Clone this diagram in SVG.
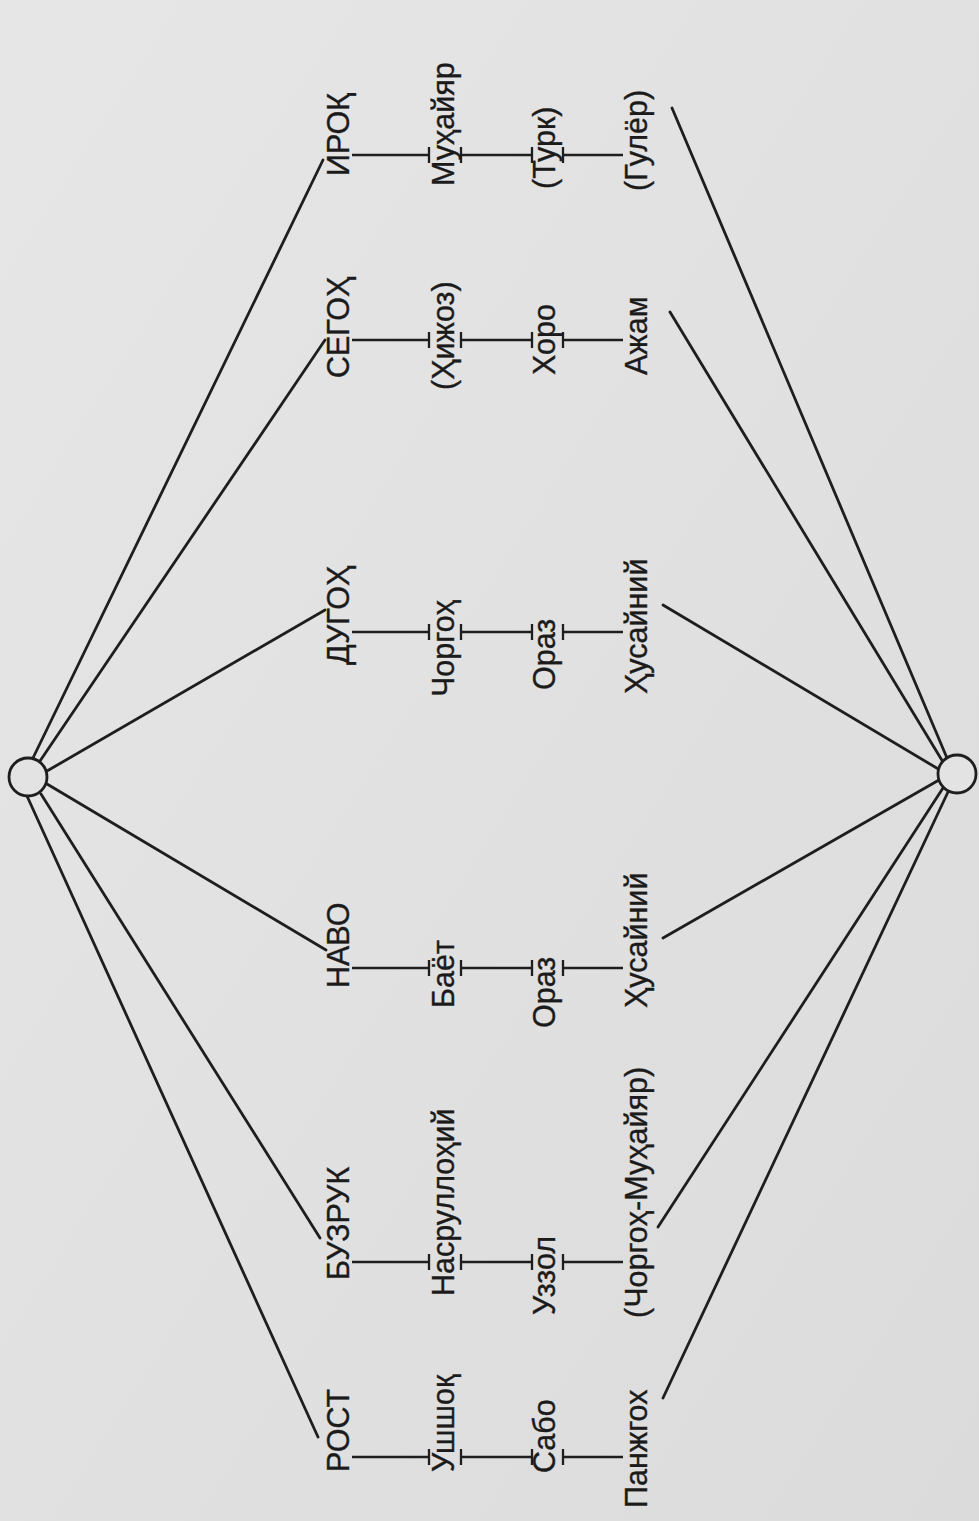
<svg xmlns="http://www.w3.org/2000/svg" width="979" height="1521" viewBox="0 0 979 1521">
<defs>
<style>
.t{font-family:"Liberation Sans",Arial,sans-serif;font-size:30.5px;fill:#1b1b1b;stroke:#1b1b1b;stroke-width:0.35}
.c{stroke:#1e1e1e;stroke-width:2.8;fill:none;stroke-linecap:round}
.h{stroke:#1e1e1e;stroke-width:2.3;fill:none}
.n{stroke:#1e1e1e;stroke-width:2.8;fill:#e3e3e3}
</style>
<linearGradient id="bg" x1="0" y1="0" x2="1" y2="1">
<stop offset="0" stop-color="#e6e6e6"/>
<stop offset="0.5" stop-color="#e1e1e1"/>
<stop offset="1" stop-color="#dbdbdb"/>
</linearGradient>
</defs>
<rect width="979" height="1521" fill="url(#bg)"/>

<g id="connectors">
<path class="c" d="M33,758 L323,160"/>
<path class="c" d="M40,761 L325,340"/>
<path class="c" d="M47,771 L325,610"/>
<path class="c" d="M47,784 L326,950"/>
<path class="c" d="M41,794 L320,1238"/>
<path class="c" d="M27,796 L318,1437"/>
<path class="c" d="M672,108 L947,758"/>
<path class="c" d="M670,312 L943,762"/>
<path class="c" d="M663,605 L940,770"/>
<path class="c" d="M663,938 L939,780"/>
<path class="c" d="M658,1227 L943,788"/>
<path class="c" d="M663,1398 L948,792"/>
<g id="rows">
<path class="h" d="M352,155H429M461,155H532M563,155H623M429,147V163M461,147V163M532,147V163M563,147V163"/>
<path class="h" d="M352,340H429M461,340H532M563,340H623M429,332V348M461,332V348M532,332V348M563,332V348"/>
<path class="h" d="M352,632H429M461,632H532M563,632H623M429,624V640M461,624V640M532,624V640M563,624V640"/>
<path class="h" d="M352,968H429M461,968H532M563,968H623M429,960V976M461,960V976M532,960V976M563,960V976"/>
<path class="h" d="M352,1262H429M461,1262H532M563,1262H623M429,1254V1270M461,1254V1270M532,1254V1270M563,1254V1270"/>
<path class="h" d="M352,1457H429M461,1457H532M563,1457H623M429,1449V1465M461,1449V1465M532,1449V1465M563,1449V1465"/>
</g>
</g>

<g id="node-left"><circle class="n" cx="28" cy="777" r="19"/></g>
<g id="node-right"><circle class="n" cx="957" cy="774" r="19"/></g>

<g id="col1">
<g id="n-iroq"><text class="t" transform="translate(349,176) rotate(-90)">ИРОҚ</text></g>
<g id="n-segoh"><text class="t" transform="translate(349,378) rotate(-90)">СЕГОҲ</text></g>
<g id="n-dugoh"><text class="t" transform="translate(349,665) rotate(-90)">ДУГОҲ</text></g>
<g id="n-navo"><text class="t" transform="translate(349,988) rotate(-90)">НАВО</text></g>
<g id="n-buzruk"><text class="t" transform="translate(349,1280) rotate(-90)">БУЗРУК</text></g>
<g id="n-rost"><text class="t" transform="translate(349,1472) rotate(-90)">РОСТ</text></g>
</g>
<g id="col2">
<g id="n-muhayyar"><text class="t" transform="translate(454,186) rotate(-90)">Муҳайяр</text></g>
<g id="n-hijoz"><text class="t" transform="translate(454,390) rotate(-90)">(Ҳижоз)</text></g>
<g id="n-chorgoh"><text class="t" transform="translate(454,697) rotate(-90)">Чоргоҳ</text></g>
<g id="n-bayot"><text class="t" transform="translate(454,1008) rotate(-90)">Баёт</text></g>
<g id="n-nasrulloh"><text class="t" transform="translate(454,1296) rotate(-90)">Насруллоҳий</text></g>
<g id="n-ushshoq"><text class="t" transform="translate(454,1472) rotate(-90)">Ушшоқ</text></g>
</g>
<g id="col3">
<g id="n-turk"><text class="t" transform="translate(555,189) rotate(-90)">(Турк)</text></g>
<g id="n-horo"><text class="t" transform="translate(555,375) rotate(-90)">Хоро</text></g>
<g id="n-oraz1"><text class="t" transform="translate(555,690) rotate(-90)">Ораз</text></g>
<g id="n-oraz2"><text class="t" transform="translate(555,1028) rotate(-90)">Ораз</text></g>
<g id="n-uzzol"><text class="t" transform="translate(555,1315) rotate(-90)">Уззол</text></g>
<g id="n-sabo"><text class="t" transform="translate(555,1473) rotate(-90)">Сабо</text></g>
</g>
<g id="col4">
<g id="n-guler"><text class="t" transform="translate(647,191) rotate(-90)">(Гулёр)</text></g>
<g id="n-ajam"><text class="t" transform="translate(647,375) rotate(-90)">Ажам</text></g>
<g id="n-husayni1"><text class="t" transform="translate(647,694) rotate(-90)">Ҳусайний</text></g>
<g id="n-husayni2"><text class="t" transform="translate(647,1008) rotate(-90)">Ҳусайний</text></g>
<g id="n-chm"><text class="t" transform="translate(647,1318) rotate(-90)">(Чоргоҳ-Муҳайяр)</text></g>
<g id="n-panjgoh"><text class="t" transform="translate(647,1508) rotate(-90)">Панжгох</text></g>
</g>
</svg>
